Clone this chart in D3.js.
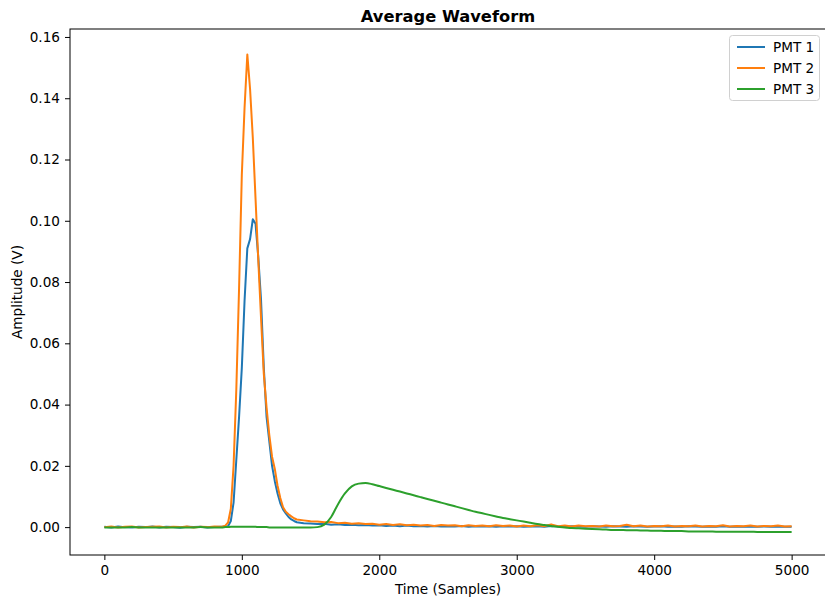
<!DOCTYPE html>
<html>
<head>
<meta charset="utf-8">
<script src="https://cdn.jsdelivr.net/npm/d3@7"></script>
<style>
  html, body { margin: 0; padding: 0; background: #fff; }
  svg { display: block; }
  text { font-family: "DejaVu Sans", sans-serif; fill: #000; }
</style>
</head>
<body>
<svg id="chart" width="825" height="597"></svg>
<script>
// ---- Data ----
const timeA = [0,50,100,150,200,250,300,350,400,450,500,550,600,650,700,750,800,850];
const timeB = [860,880,900,920,940,960,980,1000,1020,1040,1060,1080,1100,1120,1140,1160,1180,1200,1220,1240,1260,1280,1300,1320,1340,1360,1380,1400];
const timeC = [1450,1500,1550,1600,1650,1700,1750,1800,1850,1900,
               1950,2000,2050,2100,2150,2200,2250,2300,2350,2400,
               2450,2500,2550,2600,2650,2700,2750,2800,2850,2900,
               2950,3000,3050,3100,3150,3200,3250,3300,3350,3400,
               3450,3500,3550,3600,3650,3700,3750,3800,3850,3900,
               3950,4000,4050,4100,4150,4200,4250,4300,4350,4400,
               4450,4500,4550,4600,4650,4700,4750,4800,4850,4900,
               4950,5000];
const timeSamples = timeA.concat(timeB, timeC);

const pmt1 = [
  0.0001,-0.0001,0.0002,0.0000,-0.0001,0.0001,0.0000,0.0002,-0.0001,0.0001,0.0000,-0.0002,0.0001,0.0000,0.0001,-0.0001,0.0000,0.0001,
  0.0001,0.0001,0.0003,0.0020,0.0080,0.0220,0.0360,0.0520,0.0740,0.0910,0.0940,0.1005,0.0990,0.0880,0.0740,0.0520,0.0360,0.0280,0.0200,0.0150,0.0110,0.0078,0.0058,0.0045,0.0033,0.0025,0.0020,0.0016,
  0.0013,0.0012,0.0010,0.0011,0.0008,0.0009,0.0007,0.0008,0.0006,0.0007,
  0.0005,0.0006,0.0004,0.0005,0.0003,0.0005,0.0003,0.0004,0.0002,0.0004,
  0.0002,0.0003,0.0002,0.0004,0.0001,0.0003,0.0002,0.0003,0.0001,0.0003,
  0.0002,0.0003,0.0001,0.0002,0.0003,0.0001,0.0004,0.0002,0.0001,0.0003,
  0.0002,0.0001,0.0003,0.0002,0.0001,0.0003,0.0002,0.0001,0.0003,0.0002,
  0.0001,0.0002,0.0003,0.0001,0.0002,0.0001,0.0003,0.0002,0.0001,0.0002,
  0.0001,0.0003,0.0001,0.0002,0.0001,0.0002,0.0001,0.0002,0.0001,0.0002,
  0.0001,0.0001
];
const pmt2 = [
  0.0000,0.0002,-0.0001,0.0001,0.0002,-0.0001,0.0000,0.0001,0.0002,-0.0001,0.0001,0.0000,0.0002,-0.0001,0.0001,0.0000,0.0002,0.0001,
  0.0002,0.0005,0.0015,0.0060,0.0200,0.0450,0.0780,0.1150,0.1370,0.1543,0.1430,0.1270,0.1070,0.0870,0.0680,0.0500,0.0390,0.0300,0.0230,0.0190,0.0135,0.0095,0.0065,0.0050,0.0042,0.0035,0.0029,0.0025,
  0.0022,0.0019,0.0018,0.0016,0.0017,0.0013,0.0014,0.0011,0.0013,0.0010,
  0.0011,0.0008,0.0010,0.0007,0.0009,0.0006,0.0008,0.0005,0.0007,0.0004,
  0.0007,0.0005,0.0006,0.0003,0.0006,0.0004,0.0005,0.0003,0.0006,0.0004,
  0.0005,0.0002,0.0005,0.0003,0.0006,0.0003,0.0009,0.0003,0.0005,0.0002,
  0.0005,0.0003,0.0004,0.0002,0.0005,0.0003,0.0004,0.0008,0.0003,0.0005,
  0.0002,0.0004,0.0003,0.0005,0.0002,0.0004,0.0003,0.0005,0.0002,0.0004,
  0.0003,0.0006,0.0002,0.0004,0.0003,0.0005,0.0002,0.0004,0.0003,0.0005,
  0.0002,0.0003
];
const pmt3 = [
  -0.0001,-0.0001,-0.0001,-0.0001,0.0000,-0.0001,-0.0001,-0.0001,-0.0001,-0.0001,-0.0001,-0.0001,-0.0001,-0.0001,0.0000,-0.0001,-0.0001,-0.0001,
  -0.0001,0.0000,0.0000,0.0001,0.0001,0.0001,0.0001,0.0001,0.0001,0.0001,0.0001,0.0001,0.0001,0.0000,0.0000,0.0000,0.0000,-0.0001,-0.0001,-0.0001,-0.0001,-0.0001,-0.0001,-0.0001,-0.0001,-0.0001,-0.0001,-0.0001,
  -0.0001,-0.0001,0.0000,0.0008,0.0033,0.0075,0.0110,0.0133,0.0142,0.0144,
  0.0140,0.0134,0.0128,0.0122,0.0116,0.0110,0.0104,0.0098,0.0092,0.0086,
  0.0080,0.0074,0.0068,0.0062,0.0056,0.0050,0.0045,0.0040,0.0035,0.0030,
  0.0026,0.0022,0.0018,0.0014,0.0010,0.0007,0.0004,0.0001,-0.0001,-0.0003,
  -0.0004,-0.0005,-0.0006,-0.0007,-0.0008,-0.0009,-0.0009,-0.0010,-0.0010,-0.0011,
  -0.0011,-0.0012,-0.0012,-0.0013,-0.0013,-0.0013,-0.0014,-0.0014,-0.0014,-0.0014,
  -0.0015,-0.0015,-0.0015,-0.0015,-0.0015,-0.0015,-0.0016,-0.0016,-0.0016,-0.0016,
  -0.0016,-0.0016
];
const seriesNames = ["PMT 1", "PMT 2", "PMT 3"];
const seriesColors = ["#1f77b4", "#ff7f0e", "#2ca02c"];
const xTicks = [0, 1000, 2000, 3000, 4000, 5000];
const yTicks = [0.00, 0.02, 0.04, 0.06, 0.08, 0.10, 0.12, 0.14, 0.16];

// ---- Layout ----
const svg = d3.select("#chart");
const L = 70, R = 826, T = 29, B = 555;
const FS = 13.6;

const x = d3.scaleLinear().domain([-250, 5250]).range([L, R]);
const y = d3.scaleLinear().domain([-0.0091, 0.1626]).range([B, T]);

// Lines
const allSeries = [pmt1, pmt2, pmt3];
const curves = [d3.curveLinear, d3.curveLinear, d3.curveMonotoneX];

const plot = svg.append("g");
allSeries.forEach((s, k) => {
  const line = d3.line()
    .x((d, i) => x(timeSamples[i]))
    .y(d => y(d))
    .curve(curves[k]);
  plot.append("path")
    .datum(s)
    .attr("fill", "none")
    .attr("stroke", seriesColors[k])
    .attr("stroke-width", 2)
    .attr("stroke-linejoin", "round")
    .attr("d", line);
});

// Axes
const xAxis = d3.axisBottom(x).tickValues(xTicks).tickFormat(d3.format("d")).tickSize(5).tickPadding(5);
const yAxis = d3.axisLeft(y).tickValues(yTicks).tickFormat(d3.format(".2f")).tickSize(5).tickPadding(5);

const gx = svg.append("g").attr("transform", `translate(0,${B})`).call(xAxis);
const gy = svg.append("g").attr("transform", `translate(${L},0)`).call(yAxis);
[gx, gy].forEach(g => {
  g.select(".domain").remove();
  g.selectAll(".tick line").attr("stroke", "#000").attr("stroke-width", 1);
  g.selectAll(".tick text").attr("font-size", FS).attr("font-family", "DejaVu Sans").attr("fill", "#000");
});

// Frame (spines)
svg.append("rect")
  .attr("x", L).attr("y", T)
  .attr("width", R - L).attr("height", B - T)
  .attr("fill", "none").attr("stroke", "#000").attr("stroke-width", 1);

// Title and labels
svg.append("text")
  .attr("x", (L + R) / 2).attr("y", 22)
  .attr("text-anchor", "middle")
  .attr("font-size", 16.3).attr("font-weight", "bold")
  .text("Average Waveform");

svg.append("text")
  .attr("x", (L + R) / 2).attr("y", 594)
  .attr("text-anchor", "middle")
  .attr("font-size", FS)
  .text("Time (Samples)");

svg.append("text")
  .attr("transform", `translate(22,${(T + B) / 2}) rotate(-90)`)
  .attr("text-anchor", "middle")
  .attr("font-size", FS)
  .text("Amplitude (V)");

// Legend
const lg = svg.append("g");
lg.append("rect")
  .attr("x", 729.5).attr("y", 35.5).attr("width", 90).attr("height", 65)
  .attr("rx", 3).attr("fill", "#fff").attr("fill-opacity", 0.8)
  .attr("stroke", "#d0d0d0").attr("stroke-width", 1);
seriesNames.forEach((n, k) => {
  const yy = 47 + k * 21;
  lg.append("line")
    .attr("x1", 737).attr("x2", 765).attr("y1", yy).attr("y2", yy)
    .attr("stroke", seriesColors[k]).attr("stroke-width", 2);
  lg.append("text")
    .attr("x", 773).attr("y", yy + 4.8)
    .attr("font-size", FS)
    .text(n);
});
</script>
</body>
</html>
